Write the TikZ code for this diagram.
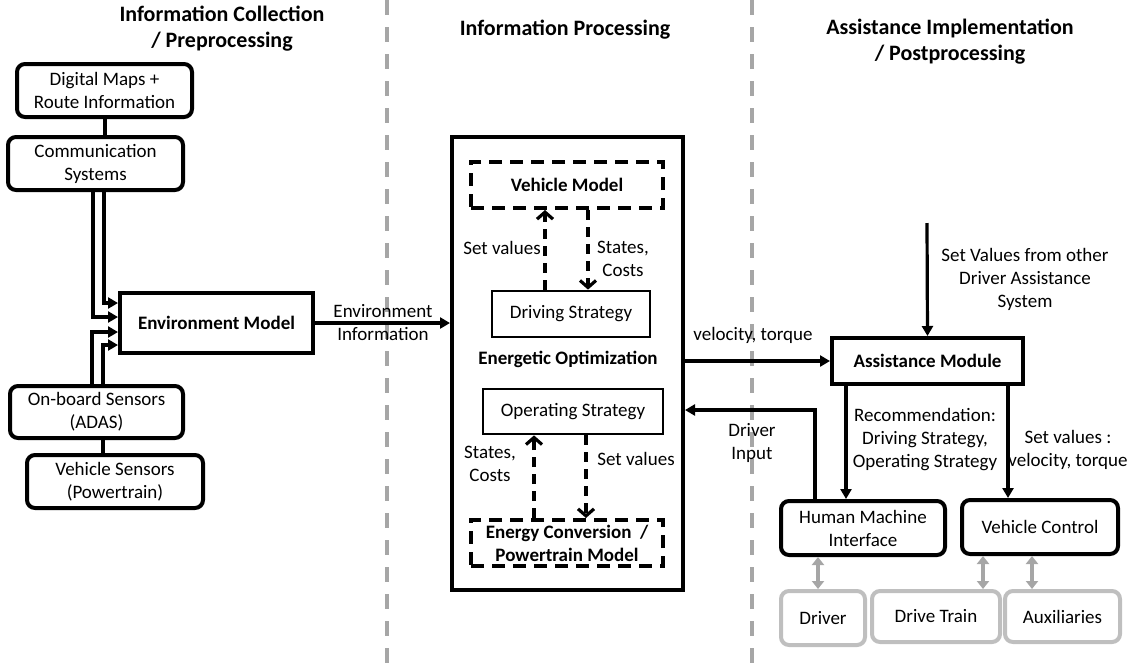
\documentclass[tikz,border=0pt]{standalone}
\usepackage{fontspec}
\setmainfont{Carlito}
\usetikzlibrary{arrows.meta}
\begin{document}
\begin{tikzpicture}[x=1pt,y=-1pt,
  every node/.style={font=\fontsize{19}{23}\selectfont, align=center, inner sep=0pt},
  rbox/.style={draw, line width=4pt, rounded corners=8pt},
  sbox/.style={draw, line width=4pt},
  tbox/.style={draw, line width=2.8pt},
  dbox/.style={draw, line width=4pt, dash pattern=on 13pt off 8pt},
  gbox/.style={draw=black!25, line width=4pt, rounded corners=8pt},
  title/.style={font=\fontsize{22}{26}\selectfont\bfseries},
  conn/.style={line width=3.2pt},
  arr/.style={line width=3.2pt, -{Triangle[length=10pt,width=11pt]}},
  darr/.style={line width=3.2pt, dash pattern=on 10pt off 7pt, -{Straight Barb[length=7pt,width=16pt,line width=3.2pt]}},
  garr/.style={draw=black!35, line width=3.5pt, {Triangle[length=8pt,width=12pt]}-{Triangle[length=8pt,width=12pt]}},
  gline/.style={draw=black!35, line width=4pt, dash pattern=on 15pt off 12pt}]
\useasboundingbox (0,0) rectangle (1141,665);

% separators
\draw[gline] (387,0) -- (387,665);
\draw[gline] (752,0) -- (752,665);

% titles
\node[title] (t1) at (222,29) {Information Collection\\/ Preprocessing};
\node[title] (t2) at (565,30) {Information Processing};
\node[title] (t3) at (950,42) {Assistance Implementation\\/ Postprocessing};

% left column
\node[rbox, minimum width=175pt, minimum height=53pt] (maps) at (104.5,90.5) {Digital Maps +\\Route Information};
\node[rbox, minimum width=175pt, minimum height=53pt] (comm) at (95.5,163.5) {Communication\\Systems};
\node[sbox, minimum width=193pt, minimum height=60pt] (env) at (216.5,323) {\bfseries Environment Model};
\node[rbox, minimum width=173pt, minimum height=52pt] (onboard) at (96.5,412) {On-board Sensors\\(ADAS)};
\node[rbox, minimum width=176pt, minimum height=53pt] (vsens) at (115,481.5) {Vehicle Sensors\\(Powertrain)};

\draw[conn] (105,0 |- maps.south) -- (105,0 |- comm.north);
\draw[conn] (103,0 |- onboard.south) -- (103,0 |- vsens.north);
\draw[arr] (104,0 |- comm.south) |- ([yshift=20pt]env.west);
\draw[arr] (93,0 |- comm.south) |- ([yshift=6pt]env.west);
\draw[arr] (92,0 |- onboard.north) |- ([yshift=-9pt]env.west);
\draw[arr] (103,0 |- onboard.north) |- ([yshift=-22pt]env.west);

% middle
\node[sbox, minimum width=231pt, minimum height=453pt] (opt) at (567.5,363.5) {};
\node[dbox, minimum width=192pt, minimum height=46pt] (vm) at (567,185) {\bfseries Vehicle Model};
\node[tbox, minimum width=158pt, minimum height=46pt] (ds) at (571,314) {Driving Strategy};
\node[font=\fontsize{19}{23}\selectfont\bfseries] (eo) at (568,359) {Energetic Optimization};
\node[tbox, minimum width=180pt, minimum height=45pt] (os) at (573,411.5) {Operating Strategy};
\node[dbox, minimum width=192pt, minimum height=46pt] (ec) at (567,543) {\bfseries Energy Conversion\ \ /\\\bfseries Powertrain Model};

\draw[darr] (545,0 |- ds.north) -- (545,0 |- vm.south);
\node (l1) at (502,248) {Set values};
\draw[darr] (588,0 |- vm.south) -- (588,0 |- ds.north);
\node (l2) at (623,259) {States,\\Costs};
\draw[darr] (534,0 |- ec.north) -- (534,0 |- os.south);
\node (l3) at (490,464) {States,\\Costs};
\draw[darr] (586,0 |- os.south) -- (586,0 |- ec.north);
\node (l4) at (636,459) {Set values};

\draw[arr] (env.east) -- (opt.west |- env.east);
\node (l5) at (383,323) {Environment\\Information};

% right
\node[sbox, minimum width=191pt, minimum height=46pt] (am) at (927.5,361) {\bfseries Assistance Module};
\node[rbox, minimum width=164pt, minimum height=54pt] (hmi) at (863,528) {Human Machine\\Interface};
\node[rbox, minimum width=156pt, minimum height=54pt] (vc) at (1040,527) {Vehicle Control};
\node[gbox, minimum width=84pt, minimum height=54pt] (drv) at (823,618) {Driver};
\node[gbox, minimum width=128pt, minimum height=51pt] (dt) at (936,616.5) {Drive Train};
\node[gbox, minimum width=115pt, minimum height=51pt] (aux) at (1062.5,616.5) {Auxiliaries};

\coordinate (top) at (927,223);
\draw[arr] (top) -- (am.north);
\node (l6) at (1025,279) {Set Values from other\\Driver Assistance\\System};

\draw[arr] (opt.east |- am.west) -- (am.west);
\node (l7) at (753,335) {velocity, torque};

\draw[arr] (815,0 |- hmi.north) |- (opt.east |- 0,410);
\node (l8) at (752,443) {Driver\\Input};

\draw[arr] (846,0 |- am.south) -- (846,0 |- hmi.north);
\node (l9) at (925,440) {Recommendation:\\Driving Strategy,\\Operating Strategy};
\draw[arr] (1008,0 |- am.south) -- (1008,0 |- vc.north);
\node (l10) at (1068,450) {Set values :\\velocity, torque};

\draw[garr] (818,0 |- hmi.south) -- (818,0 |- drv.north);
\draw[garr] (983,0 |- vc.south) -- (983,0 |- dt.north);
\draw[garr] (1032,0 |- vc.south) -- (1032,0 |- aux.north);
\end{tikzpicture}
\end{document}
